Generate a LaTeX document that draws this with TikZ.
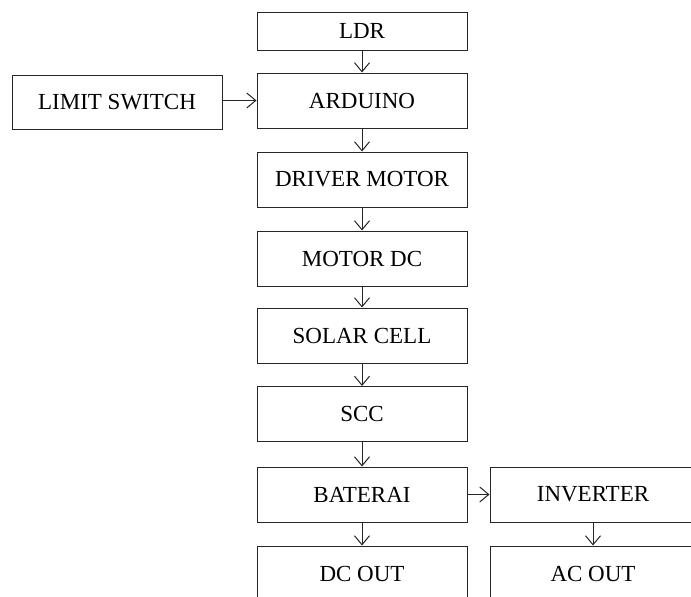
\documentclass[tikz,border=0pt]{standalone}
\usepackage{fontspec}
\setmainfont{Liberation Serif}
\usetikzlibrary{arrows.meta}
\begin{document}
\begin{tikzpicture}[x=1pt,y=-1pt,
  blk/.style={draw=black!85, line width=1pt, minimum width=210pt, minimum height=55pt, inner sep=0pt, font=\fontsize{23}{27}\selectfont, anchor=center},
  conn/.style={draw=black!85, line width=1pt, -{Straight Barb[length=9pt,width=15pt,line width=1pt]}}]
\clip (0,0) rectangle (691,597);
\useasboundingbox (0,0) rectangle (691,597);
\node[blk, minimum height=38pt] (ldr) at (362,31) {LDR};
\node[blk] (ard) at (362,100.5) {ARDUINO};
\node[blk, minimum height=54pt] (lim) at (117,102) {LIMIT SWITCH};
\node[blk] (drv) at (362,179.5) {DRIVER MOTOR};
\node[blk] (mot) at (362,258.5) {MOTOR DC};
\node[blk] (sol) at (362,335.5) {SOLAR CELL};
\node[blk] (scc) at (362,414) {SCC};
\node[blk] (bat) at (362,494.5) {BATERAI};
\node[blk, minimum width=206pt] (inv) at (593,494.5) {INVERTER};
\node[blk] (dco) at (362,573.5) {DC OUT};
\node[blk, minimum width=206pt] (aco) at (593,573.5) {AC OUT};
\draw[conn] (ldr) -- (ard);
\draw[conn] (lim.east |- ard) -- (ard);
\draw[conn] (ard) -- (drv);
\draw[conn] (drv) -- (mot);
\draw[conn] (mot) -- (sol);
\draw[conn] (sol) -- (scc);
\draw[conn] (scc) -- (bat);
\draw[conn] (bat) -- (inv);
\draw[conn] (bat) -- (dco);
\draw[conn] (inv) -- (aco);
\end{tikzpicture}
\end{document}
